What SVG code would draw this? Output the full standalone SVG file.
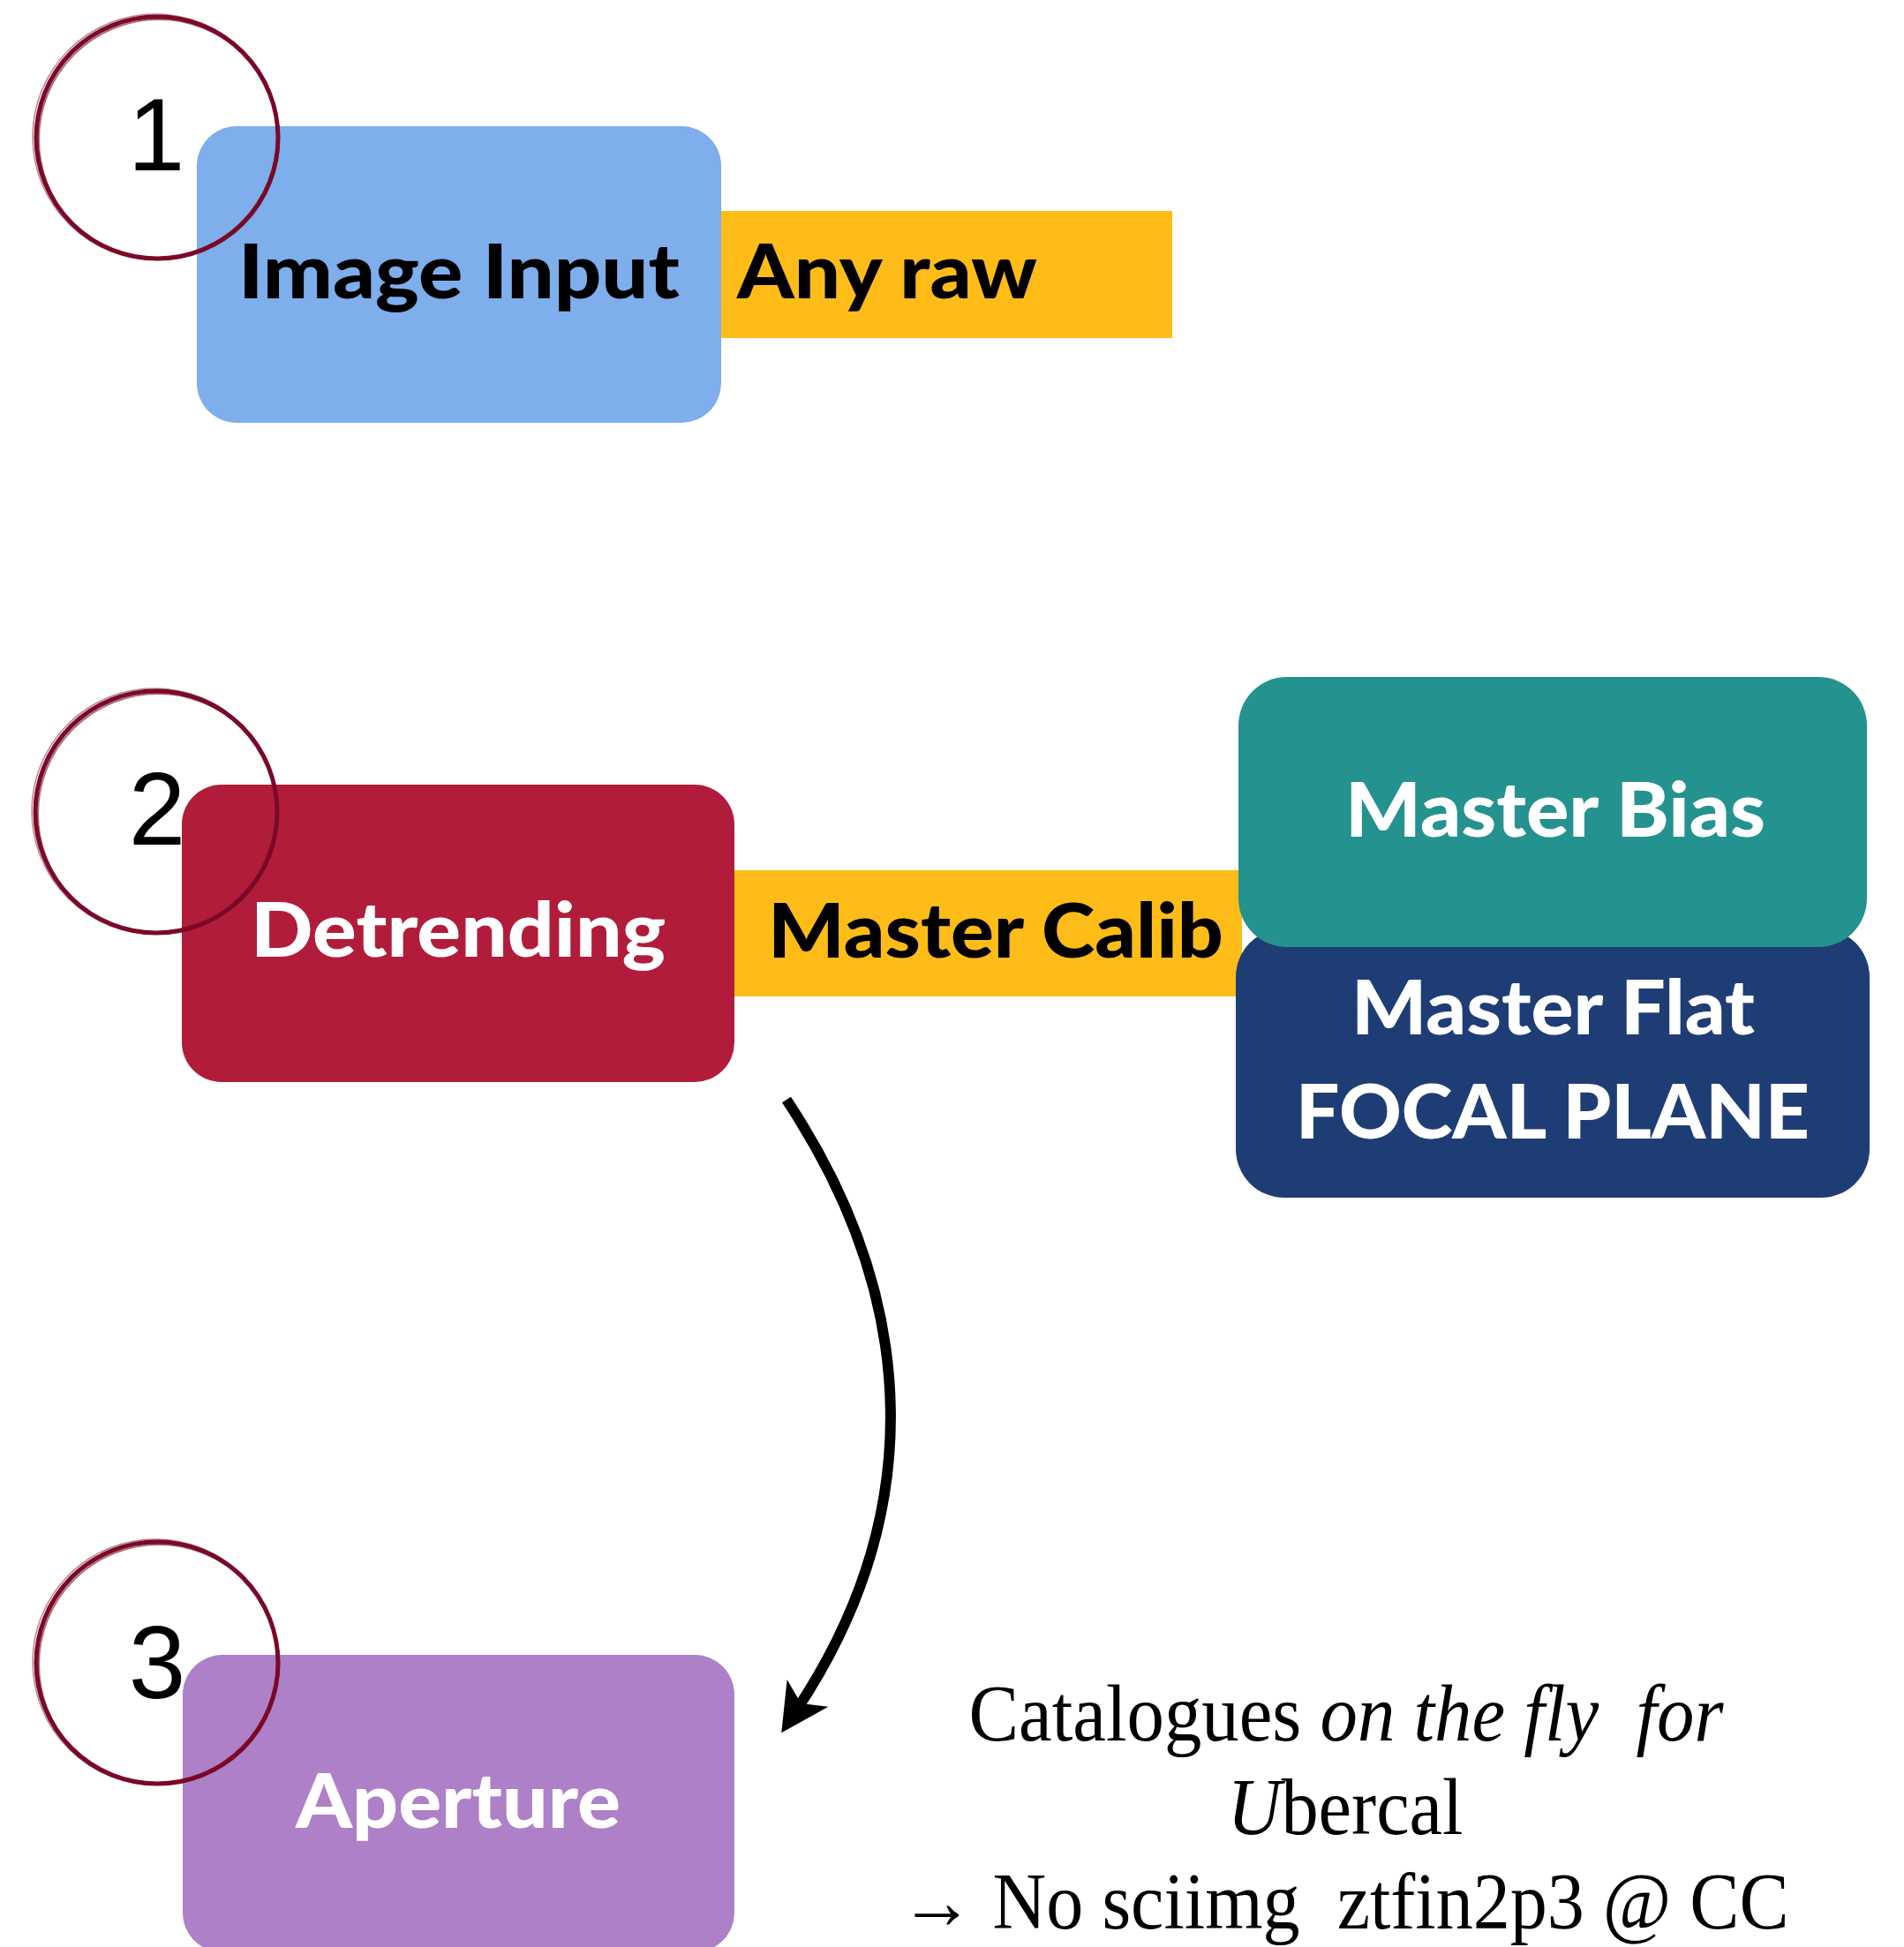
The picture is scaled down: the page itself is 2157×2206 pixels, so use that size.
<svg xmlns="http://www.w3.org/2000/svg" width="2157" height="2206" viewBox="0 0 2157 2206">
<style>
.lbl{font-family:Lato,"Liberation Sans",sans-serif;font-weight:900;font-size:86px}
.w{fill:#ffffff}
.k{fill:#000000}
.num{font-family:"Liberation Sans",Arial,sans-serif;font-size:116px;fill:#000;text-anchor:middle}
.ring{fill:none;stroke:#7a0a28}
.note{font-family:"Liberation Serif","Times New Roman",serif;font-size:90px;fill:#000;text-anchor:middle;white-space:pre}
</style>
<defs>
<marker id="ah" markerUnits="userSpaceOnUse" markerWidth="120" markerHeight="120" viewBox="-60 -60 120 120" refX="0" refY="0" orient="auto">
<path d="M34 0 L-20 -28 L-6 0 L-20 28 Z" fill="#000"/>
</marker>
</defs>
<rect width="2157" height="2206" fill="#fff"/>

<g id="node-any-raw">
<rect x="817" y="239" width="511" height="144" fill="#fdbc18"/>
<text class="lbl k" x="835" y="338" textLength="340" lengthAdjust="spacingAndGlyphs">Any raw</text>
</g>
<g id="node-image-input">
<rect x="223" y="143" width="594" height="336" rx="45" fill="#7eaeeb"/>
<text class="lbl k" x="270" y="338" textLength="500" lengthAdjust="spacingAndGlyphs">Image Input</text>
</g>
<g id="step-1">
<circle class="ring" cx="178" cy="156" r="137" stroke-width="5"/>
<circle class="ring" cx="180" cy="158" r="136" stroke-width="2" opacity="0.6"/>
<circle class="ring" cx="176" cy="155" r="139" stroke-width="1.5" opacity="0.5"/>
<text class="num" x="177" y="193">1</text>
</g>

<g id="node-master-calib">
<rect x="832" y="986" width="575" height="143" fill="#fdbc18"/>
<text class="lbl k" x="870" y="1085" textLength="516" lengthAdjust="spacingAndGlyphs">Master Calib</text>
</g>
<g id="node-detrending">
<rect x="206" y="889" width="626" height="337" rx="45" fill="#b11c3a"/>
<text class="lbl w" x="284" y="1084" textLength="470" lengthAdjust="spacingAndGlyphs">Detrending</text>
</g>
<g id="node-master-flat">
<rect x="1400" y="1052" width="718" height="305" rx="55" fill="#1f3d75"/>
<text class="lbl w" x="1531" y="1172" textLength="457" lengthAdjust="spacingAndGlyphs">Master Flat</text>
<text class="lbl w" x="1468" y="1290" textLength="582" lengthAdjust="spacingAndGlyphs">FOCAL PLANE</text>
</g>
<g id="node-master-bias">
<rect x="1403" y="767" width="712" height="306" rx="55" fill="#24928e"/>
<text class="lbl w" x="1524" y="948" textLength="476" lengthAdjust="spacingAndGlyphs">Master Bias</text>
</g>
<g id="step-2">
<circle class="ring" cx="177" cy="920" r="137" stroke-width="5"/>
<circle class="ring" cx="179" cy="922" r="136" stroke-width="2" opacity="0.6"/>
<circle class="ring" cx="175" cy="919" r="139" stroke-width="1.5" opacity="0.5"/>
<text class="num" x="178" y="957">2</text>
</g>

<g id="node-aperture">
<rect x="207" y="1875" width="625" height="337" rx="45" fill="#ae80c7"/>
<text class="lbl w" x="335" y="2071" textLength="368" lengthAdjust="spacingAndGlyphs">Aperture</text>
</g>
<g id="step-3">
<circle class="ring" cx="178" cy="1884" r="137" stroke-width="5"/>
<circle class="ring" cx="180" cy="1886" r="136" stroke-width="2" opacity="0.6"/>
<circle class="ring" cx="176" cy="1883" r="139" stroke-width="1.5" opacity="0.5"/>
<text class="num" x="178" y="1924">3</text>
</g>

<g id="connectors">
<path d="M891 1246 C1046 1480 1046 1720 904 1935" fill="none" stroke="#000" stroke-width="12" marker-end="url(#ah)"/>
</g>

<g id="note">
<text class="note" x="1525" y="1972" textLength="855" lengthAdjust="spacingAndGlyphs" xml:space="preserve">Catalogues <tspan font-style="italic">on the fly  for</tspan></text>
<text class="note" x="1524" y="2078" textLength="267" lengthAdjust="spacingAndGlyphs"><tspan font-style="italic">U</tspan>bercal</text>
<text class="note" x="1523" y="2185" textLength="1007" lengthAdjust="spacingAndGlyphs" xml:space="preserve">→ No sciimg  ztfin2p3 @ CC</text>
</g>
</svg>
